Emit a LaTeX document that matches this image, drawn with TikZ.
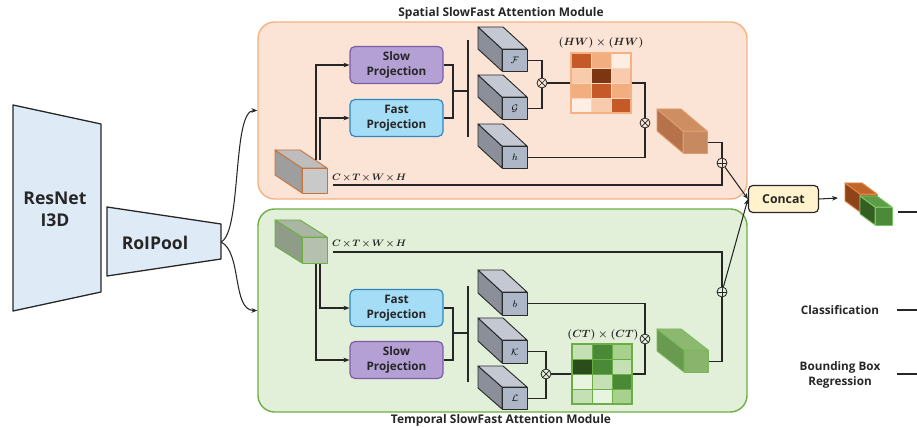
\documentclass[tikz,border=0pt]{standalone}
\usepackage{amsmath}
\usepackage{fontspec}
\setmainfont{Open Sans}
\usetikzlibrary{arrows.meta}
\definecolor{lnc}{HTML}{262626}
\definecolor{sFill}{HTML}{FBE4D5}
\definecolor{sDraw}{HTML}{F4B183}
\definecolor{tFill}{HTML}{E2F0D9}
\definecolor{tDraw}{HTML}{70AD47}
\definecolor{bbFill}{HTML}{DEEBF7}
\definecolor{slowF}{HTML}{B4A0D4}
\definecolor{slowD}{HTML}{7E5BA8}
\definecolor{fastF}{HTML}{A6DDF6}
\definecolor{fastD}{HTML}{2E86C1}
\definecolor{ccF}{HTML}{FFF2CC}
% matrix colours
\definecolor{oA}{HTML}{FDEDE3}
\definecolor{oB}{HTML}{F8CBAD}
\definecolor{oC}{HTML}{F2AE7E}
\definecolor{oD}{HTML}{C55A28}
\definecolor{oE}{HTML}{7E3612}
\definecolor{oG}{HTML}{F9D5BC}
\definecolor{gA}{HTML}{E8F4E0}
\definecolor{gB}{HTML}{C5E0B4}
\definecolor{gC}{HTML}{A9D18E}
\definecolor{gD}{HTML}{4A8A36}
\definecolor{gE}{HTML}{2B4D1C}
\definecolor{gG}{HTML}{6AAE45}
% cuboid colours
\definecolor{gcS}{HTML}{8A8F99}
\definecolor{gcT}{HTML}{C3C8D3}
\definecolor{gcF}{HTML}{ADB7C8}
\definecolor{gcB}{HTML}{2B2B2B}
\definecolor{ocS}{HTML}{9E9E9E}
\definecolor{ocT}{HTML}{BDBDBD}
\definecolor{ocF}{HTML}{C9C9C9}
\definecolor{ocB}{HTML}{C8733C}
\definecolor{brS}{HTML}{B6724A}
\definecolor{brT}{HTML}{CF8D62}
\definecolor{brF}{HTML}{C7895F}
\definecolor{brB}{HTML}{DE9C6E}
\definecolor{icS}{HTML}{8F9D88}
\definecolor{icT}{HTML}{AAB6A3}
\definecolor{icF}{HTML}{B5C1AE}
\definecolor{icB}{HTML}{6CB044}
\definecolor{gnS}{HTML}{6A9A50}
\definecolor{gnT}{HTML}{8DB870}
\definecolor{gnF}{HTML}{89B46C}
\definecolor{gnB}{HTML}{79B85A}
\definecolor{koS}{HTML}{8E4318}
\definecolor{koT}{HTML}{C0662C}
\definecolor{koF}{HTML}{B05823}
\definecolor{koB}{HTML}{E0843F}
\definecolor{kgS}{HTML}{335F25}
\definecolor{kgT}{HTML}{5E9D47}
\definecolor{kgF}{HTML}{4C8A39}
\definecolor{kgB}{HTML}{7BC463}

\newcommand{\cubstyle}[5]{\tikzset{
  #1side/.style={fill=#2,draw=#5,line width=0.8pt,line join=round},
  #1top/.style={fill=#3,draw=#5,line width=0.8pt,line join=round},
  #1front/.style={fill=#4,draw=#5,line width=0.8pt,line join=round,inner sep=0pt,
     font=\fontsize{8}{9}\selectfont}}}
\cubstyle{gc}{gcS}{gcT}{gcF}{gcB}
\cubstyle{oc}{ocS}{ocT}{ocF}{ocB}
\cubstyle{br}{brS}{brT}{brF}{brB}
\cubstyle{ic}{icS}{icT}{icF}{icB}
\cubstyle{gn}{gnS}{gnT}{gnF}{gnB}
\cubstyle{ko}{koS}{koT}{koF}{koB}
\cubstyle{kg}{kgS}{kgT}{kgF}{kgB}

% name, fx, fy, w, h, dx, dy, style prefix, label
\newcommand{\cuboid}[9]{%
  \filldraw[#8side] (#2,#3) -- (#2-#6,#3-#7) -- (#2-#6,#3+#5-#7) -- (#2,#3+#5) -- cycle;
  \filldraw[#8top] (#2,#3) -- (#2-#6,#3-#7) -- (#2+#4-#6,#3-#7) -- (#2+#4,#3) -- cycle;
  \node[#8front, minimum width=#4*0.03cm, minimum height=#5*0.03cm, anchor=north west] (#1) at (#2,#3) {#9};
}
\newcommand{\tightx}{\mskip 2mu\mathord{\times}\mskip 2mu}

\begin{document}
\begin{tikzpicture}[x=0.03cm,y=-0.03cm,
  ln/.style={draw=lnc, line width=0.9pt},
  arr/.style={draw=lnc, line width=0.9pt, -{Stealth[length=5pt,width=4pt]}},
  module/.style={rounded corners=0.5cm, line width=1.2pt, inner sep=0pt, minimum width=14.67cm},
  proj/.style={rounded corners=0.15cm, line width=1pt, minimum width=2.79cm, minimum height=1.11cm,
     align=center, inner sep=0pt, font=\fontsize{10}{12.5}\selectfont\bfseries, text=lnc},
  title/.style={font=\fontsize{10.2}{12}\selectfont\bfseries, text=lnc},
  plain/.style={font=\fontsize{10}{13}\selectfont\bfseries, text=lnc, align=center},
  mathlbl/.style={font=\fontsize{8.3}{10}\selectfont\boldmath, text=lnc, inner sep=0pt},
  matlbl/.style={font=\fontsize{9}{10}\selectfont\boldmath, text=lnc, inner sep=0pt},
  otimesn/.style={circle, draw=lnc, line width=0.7pt, minimum size=0.3cm, inner sep=0pt,
     path picture={\draw[lnc, line width=0.6pt] (path picture bounding box.north west) -- (path picture bounding box.south east)
       (path picture bounding box.north east) -- (path picture bounding box.south west);}},
  oplusn/.style={circle, draw=lnc, line width=0.7pt, minimum size=0.3cm, inner sep=0pt,
     path picture={\draw[lnc, line width=0.6pt] (path picture bounding box.north) -- (path picture bounding box.south)
       (path picture bounding box.east) -- (path picture bounding box.west);}},
  matnode/.style={line width=1pt, minimum width=1.8cm, minimum height=1.8cm, inner sep=0pt}
]
\useasboundingbox (0,0) rectangle (917,427);

% ---------------- backbone ----------------
\filldraw[fill=bbFill, draw=lnc, line width=1.1pt, line join=round]
  (13,105) -- (101,124) -- (101,292) -- (13,311) -- cycle;
\node[font=\fontsize{15}{18.5}\selectfont\bfseries, text=lnc, align=center] (resnet) at (55,209) {ResNet\\I3D};
\filldraw[fill=bbFill, draw=lnc, line width=1.1pt, line join=round]
  (107,207) -- (221,224) -- (221,259) -- (107,276) -- cycle;
\node[font=\fontsize{15}{18}\selectfont\bfseries, text=lnc] (roipool) at (155,243) {RoIPool};
\coordinate (rp) at (221,242);

% ---------------- modules ----------------
\node[module, fill=sFill, draw=sDraw, minimum height=5.31cm] (smod) at (502.5,110.5) {};
\node[module, fill=tFill, draw=tDraw, minimum height=6.09cm] (tmod) at (502.5,310.5) {};
\node[title] (stitle) at (501,13) {Spatial SlowFast Attention Module};
\node[title] (ttitle) at (501,420) {Temporal SlowFast Attention Module};

\draw[arr] (rp) .. controls (242,232) and (232,110.5) .. (smod.west);
\draw[arr] (rp) .. controls (242,252) and (232,310.5) .. (tmod.west);

% ================= spatial module =================
\cuboid{tin1}{302}{168}{25}{25}{27}{18}{oc}{}
\node[proj, fill=slowF, draw=slowD] (sp1) at (396.5,65) {Slow\\Projection};
\node[proj, fill=fastF, draw=fastD] (fp1) at (396.5,118) {Fast\\Projection};
\coordinate (a1) at (316,160);
\coordinate (a2) at (320,160);
\draw[arr] (a1) |- (sp1.west);
\draw[arr] (a2) |- (fp1.west);
\coordinate (jn1) at (453,91);
\coordinate (br1) at (468,91);
\coordinate (bt1) at (468,40);
\coordinate (bb1) at (468,137);
\draw[ln] (sp1.east) -| (jn1);
\draw[ln] (fp1.east) -| (jn1) -- (br1);
\draw[ln, line width=1.1pt] (bt1) -- (bb1);

\cuboid{cF}{502}{49}{25}{22}{24}{22}{gc}{$\mathcal{F}$}
\cuboid{cG}{502}{97}{25}{22}{24}{22}{gc}{$\mathcal{G}$}
\cuboid{ch}{502}{146}{25}{22}{24}{22}{gc}{$h$}

\node[otimesn] (ox1) at (542,83) {};
\draw[ln] (cF.east) -| (ox1);
\draw[ln] (cG.east) -| (ox1);

% attention matrix (HW)x(HW)
\foreach \c [count=\i from 0] in {oD,oC,oA,oB,oE,oB,oC,oD,oC,oA,oB,oD}{
  \pgfmathtruncatemacro\mcol{mod(\i,3)}
  \pgfmathtruncatemacro\mrow{int(\i/3)}
  \fill[\c] (571+\mcol*20,53+\mrow*15) rectangle ++(20,15);
}
\foreach \k in {1,2} \draw[oG, line width=0.8pt] (571+\k*20,53) -- ++(0,60);
\foreach \k in {1,2,3} \draw[oG, line width=0.8pt] (571,53+\k*15) -- ++(60,0);
\node[matnode, draw=sDraw] (m1) at (601,83) {};
\node[matlbl] (lhw) at (601,43) {$(HW)\times(HW)$};
\draw[ln] (ox1) -- (m1.west);

\node[otimesn] (ox2) at (645,123) {};
\draw[ln] (m1.east) -| (ox2);
\draw[ln] (ch.east) -| (ox2);

\cuboid{out1}{683}{131}{24}{22}{26}{22}{br}{}
\node[oplusn] (op1) at (722,163) {};
\draw[ln] (out1.east) -| (op1);
\coordinate (cs1) at (333,185);
\draw[ln] (cs1) -| (op1);
\node[mathlbl, anchor=west] (dim1) at (332,178) {$C\tightx T\tightx W\tightx H$};

% ================= temporal module =================
\cuboid{tin2}{302}{237}{25}{26}{27}{17}{ic}{}
\coordinate (cs2) at (333,252);
\node[mathlbl, anchor=west] (dim2) at (332,244) {$C\tightx T\tightx W\tightx H$};
\node[proj, fill=fastF, draw=fastD] (fp2) at (396.5,308) {Fast\\Projection};
\node[proj, fill=slowF, draw=slowD] (sp2) at (396.5,360) {Slow\\Projection};
\coordinate (b1) at (316,264);
\coordinate (b2) at (320,264);
\draw[arr] (b1) |- (sp2.west);
\draw[arr] (b2) |- (fp2.west);
\coordinate (jn2) at (453,333);
\coordinate (br2) at (468,333);
\coordinate (bt2) at (468,286);
\coordinate (bb2) at (468,382);
\draw[ln] (fp2.east) -| (jn2);
\draw[ln] (sp2.east) -| (jn2) -- (br2);
\draw[ln, line width=1.1pt] (bt2) -- (bb2);

\cuboid{cb}{502}{292}{25}{23}{24}{22}{gc}{$b$}
\cuboid{cK}{502}{340}{25}{23}{24}{22}{gc}{$\mathcal{K}$}
\cuboid{cL}{502}{387}{25}{22}{24}{21}{gc}{$\mathcal{L}$}

\node[otimesn] (ok1) at (546,374) {};
\draw[ln] (cK.east) -| (ok1);
\draw[ln] (cL.east) -| (ok1);

% attention matrix (CT)x(CT)
\foreach \c [count=\i from 0] in {gB,gD,gC,gE,gD,gB,gA,gB,gD,gB,gA,gC}{
  \pgfmathtruncatemacro\mcol{mod(\i,3)}
  \pgfmathtruncatemacro\mrow{int(\i/3)}
  \fill[\c] (572+\mcol*20,344+\mrow*15) rectangle ++(20,15);
}
\foreach \k in {1,2} \draw[gG, line width=0.8pt] (572+\k*20,344) -- ++(0,60);
\foreach \k in {1,2,3} \draw[gG, line width=0.8pt] (572,344+\k*15) -- ++(60,0);
\node[matnode, draw=gG] (m2) at (602,374) {};
\node[matlbl] (lct) at (603,335) {$(CT)\times(CT)$};
\draw[ln] (ok1) -- (m2.west);

\node[otimesn] (ob1) at (645,339) {};
\draw[ln] (cb.east) -| (ob1);
\draw[ln] (m2.east) -| (ob1);

\cuboid{out2}{684}{350}{24}{22}{27}{21}{gn}{}
\node[oplusn] (op2) at (722,292) {};
\draw[ln] (out2.east) -| (op2);
\draw[ln] (cs2) -| (op2);

% ================= fusion & heads =================
\node[draw=lnc, fill=ccF, line width=1pt, rounded corners=0.13cm, minimum width=2.1cm,
      minimum height=0.81cm, inner sep=0pt, font=\fontsize{10.5}{12}\selectfont\bfseries, text=lnc] (cc) at (783.5,199) {Concat};
\draw[arr] (op1) -- (cc.west);
\draw[arr] (op2) -- (cc.west);

\cuboid{kk1}{860}{194}{17}{18}{15}{11}{ko}{}
\cuboid{kk2}{875}{207}{17}{18}{15}{11}{kg}{}
\coordinate (catin) at (838,198);
\draw[arr] (cc.east) -- (catin);

\coordinate (h0a) at (898,212);
\coordinate (h0b) at (917,212);
\draw[ln] (h0a) -- (h0b);

\node[plain] (cls) at (840,310) {Classification};
\coordinate (h1a) at (897,310);
\coordinate (h1b) at (917,310);
\draw[ln] (h1a) -- (h1b);

\node[plain] (bbr) at (840,375) {Bounding Box\\Regression};
\coordinate (h2a) at (897,374);
\coordinate (h2b) at (917,374);
\draw[ln] (h2a) -- (h2b);
\end{tikzpicture}
\end{document}
